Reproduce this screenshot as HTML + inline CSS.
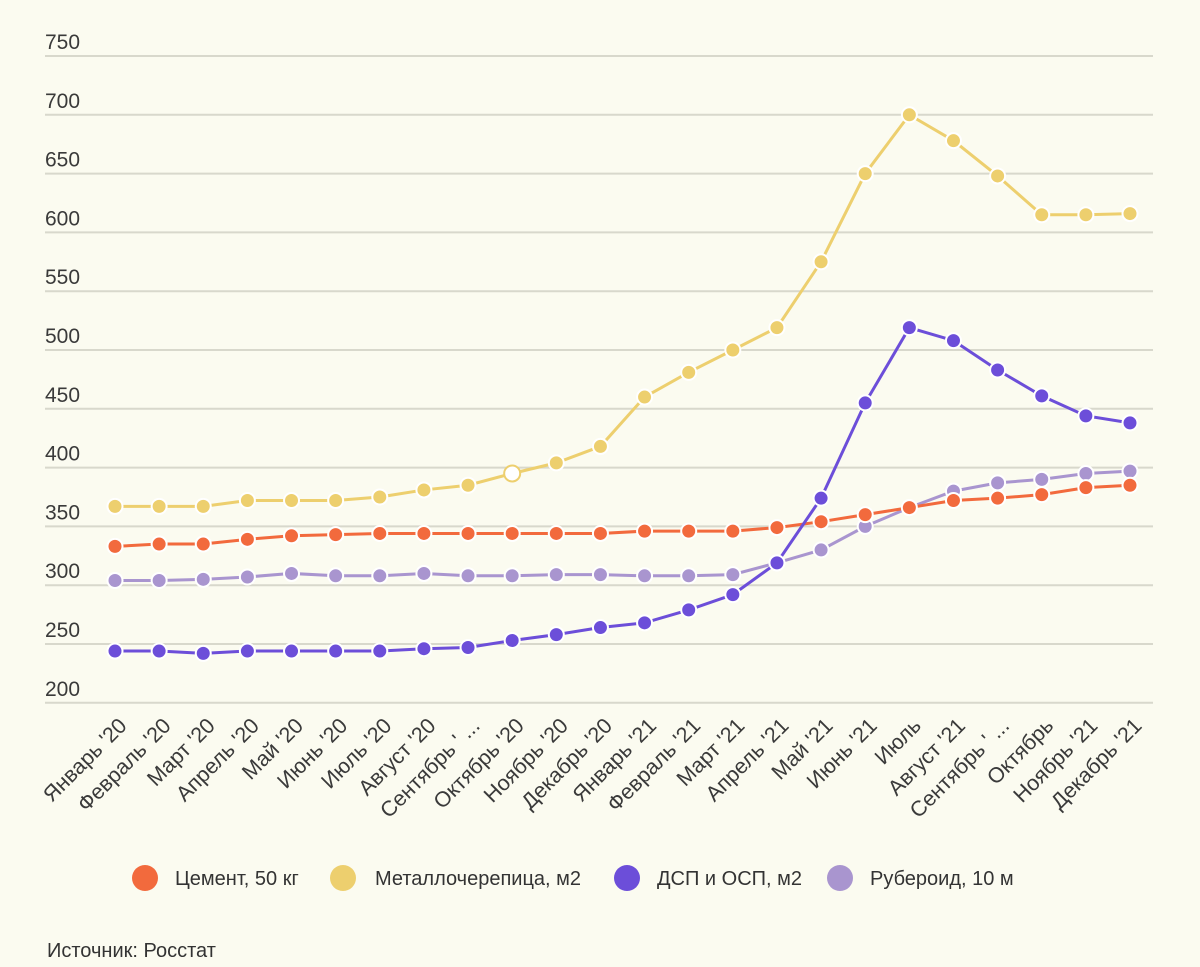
<!DOCTYPE html>
<html><head><meta charset="utf-8">
<style>
html,body{margin:0;padding:0;background:#fbfbf0;}
svg{display:block;font-family:"Liberation Sans",sans-serif;}
</style></head>
<body>
<svg id="chart" width="1200" height="967" viewBox="0 0 1200 967">
<rect width="1200" height="967" fill="#fbfbf0"/>
<g id="grid"></g><g id="xlabels"></g><g id="series"></g>
<g font-size="20" fill="#333">
<g><circle cx="145" cy="878" r="13" fill="#f26a3d"/><text x="175" y="885">Цемент, 50 кг</text></g>
<g><circle cx="343" cy="878" r="13" fill="#edcf6e"/><text x="375" y="885">Металлочерепица, м2</text></g>
<g><circle cx="627" cy="878" r="13" fill="#6c4ed9"/><text x="657" y="885">ДСП и ОСП, м2</text></g>
<g><circle cx="840" cy="878" r="13" fill="#a995cf"/><text x="870" y="885">Рубероид, 10 м</text></g>
</g>
<text x="47" y="957" font-size="20" fill="#333">Источник: Росстат</text>
</svg>
<script>
const categories=["Январь '20","Февраль '20","Март '20","Апрель '20","Май '20","Июнь '20","Июль '20","Август '20","Сентябрь ' ...","Октябрь '20","Ноябрь '20","Декабрь '20","Январь '21","Февраль '21","Март '21","Апрель '21","Май '21","Июнь '21","Июль","Август '21","Сентябрь ' ...","Октябрь","Ноябрь '21","Декабрь '21"];
const cement=[333,335,335,339,342,343,344,344,344,344,344,344,346,346,346,349,354,360,366,372,374,377,383,385];
const metal=[367,367,367,372,372,372,375,381,385,395,404,418,460,481,500,519,575,650,700,678,648,615,615,616];
const dsp=[244,244,242,244,244,244,244,246,247,253,258,264,268,279,292,319,374,455,519,508,483,461,444,438];
const ruberoid=[304,304,305,307,310,308,308,310,308,308,309,309,308,308,309,319,330,350,366,380,387,390,395,397];
const yTicks=[200,250,300,350,400,450,500,550,600,650,700,750];
const NS="http://www.w3.org/2000/svg";
const x=i=>115+i*(1015/23);
const y=v=>56+(750-v)*58.8/50;
function mk(t,a,p){const e=document.createElementNS(NS,t);for(const k in a)e.setAttribute(k,a[k]);p.appendChild(e);return e;}
const grid=document.getElementById('grid');
yTicks.forEach(v=>{
  const l=mk('line',{x1:45,x2:1153,y1:y(v),y2:y(v),stroke:'#d8d8cc','stroke-width':2},grid);
  
  
  const t=mk('text',{x:45,y:y(v)-7,'font-size':21,fill:'#3a3a3a'},grid);
  t.textContent=v;
  
  
});
const xl=document.getElementById('xlabels');
categories.forEach((c,i)=>{
  const t=mk('text',{x:0,y:0,'font-size':21.5,fill:'#3a3a3a','text-anchor':'end',transform:`translate(${x(i)+13},${727}) rotate(-45)`},xl);
  t.textContent=c;
  
  
});
const sg=document.getElementById('series');
[[ruberoid,'#a995cf','ruberoid'],[cement,'#f26a3d','cement'],[metal,'#edcf6e','metal-tile'],[dsp,'#6c4ed9','dsp-osp']].forEach(([d,col,nm])=>{
  const g=mk('g',{},sg);
  
  
  const p=mk('polyline',{points:d.map((v,i)=>x(i)+','+y(v)).join(' '),fill:'none',stroke:col,'stroke-width':3},g);
  
  
  d.forEach((v,i)=>{
    const hollow=(nm==='metal-tile'&&i===9);
    const c=mk('circle',{cx:x(i),cy:y(v),r:hollow?8:7.5,fill:hollow?'#fff':col,stroke:hollow?col:'#fff','stroke-width':2},g);
    
    
  });
});
</script>
</body></html>
